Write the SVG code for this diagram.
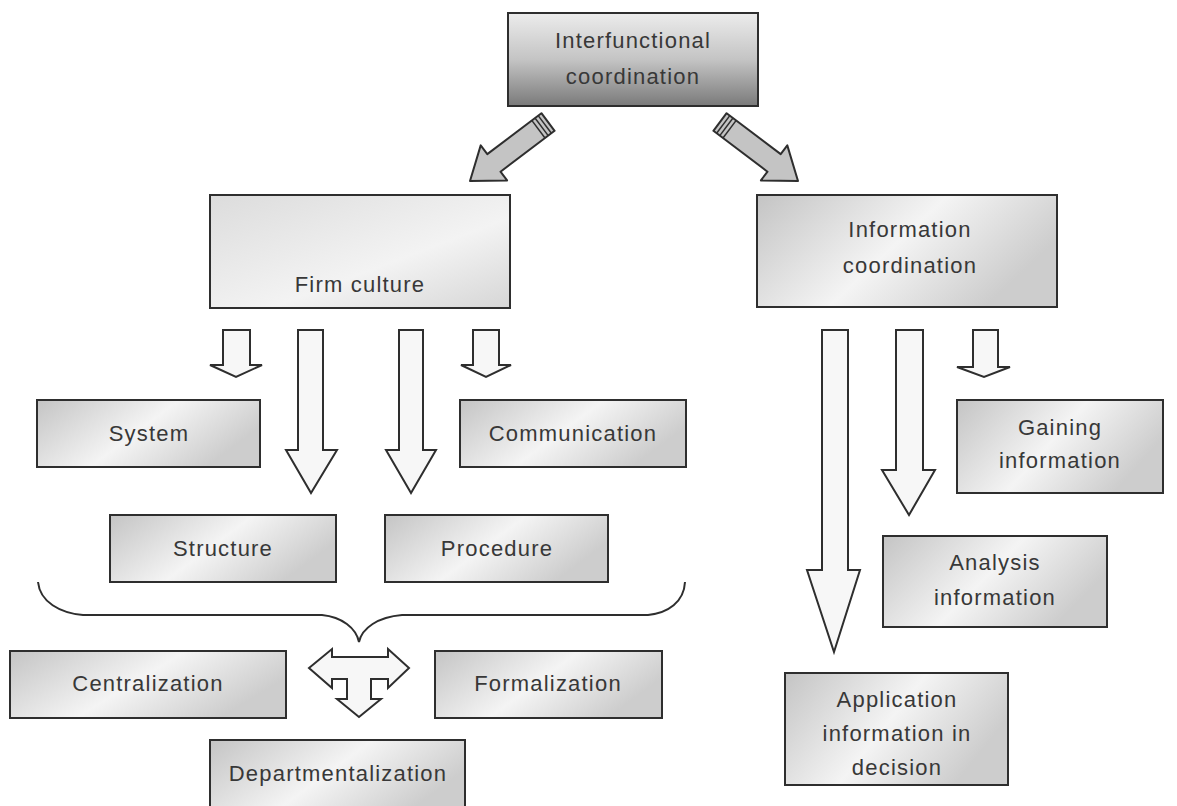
<svg xmlns="http://www.w3.org/2000/svg" width="1177" height="806" viewBox="0 0 1177 806">
<style>
.box{stroke:#2e2e2e;stroke-width:2}
.t{font-family:"Liberation Sans",Arial,sans-serif;font-size:22px;letter-spacing:1.2px;fill:#383838;text-anchor:middle}
.blk{fill:#f7f7f7;stroke:#2e2e2e;stroke-width:2;stroke-linejoin:miter}
.diag{fill:#c4c4c4;stroke:#2e2e2e;stroke-width:2;stroke-linejoin:round}
.stripe{stroke:#2e2e2e;stroke-width:1.5}
.brace{fill:none;stroke:#2e2e2e;stroke-width:2}
</style>
<defs>
<linearGradient id="gTop" x1="0" y1="0" x2="0" y2="1">
<stop offset="0" stop-color="#ececec"/><stop offset="0.5" stop-color="#c4c4c4"/><stop offset="1" stop-color="#7a7a7a"/>
</linearGradient>
<linearGradient id="gLight" x1="0" y1="0" x2="1" y2="1">
<stop offset="0" stop-color="#dcdcdc"/><stop offset="0.6" stop-color="#f3f3f3"/><stop offset="1" stop-color="#d6d6d6"/>
</linearGradient>
<linearGradient id="gBox" x1="0" y1="0" x2="1" y2="0.4">
<stop offset="0" stop-color="#c4c4c4"/><stop offset="0.55" stop-color="#f4f4f4"/><stop offset="1" stop-color="#cdcdcd"/>
</linearGradient>
</defs>
<rect width="1177" height="806" fill="#ffffff"/>

<g id="connectors">
<polygon class="diag" points="470,181 507.1,180.4 500.5,171.7 554.6,130.8 541.4,113.2 487.3,154.1 480.7,145.4"/>
<line class="stripe" x1="551.4" y1="133.2" x2="538.2" y2="115.6"/>
<line class="stripe" x1="548.2" y1="135.6" x2="535" y2="118"/>
<line class="stripe" x1="545" y1="138" x2="531.8" y2="120.4"/>
<polygon class="diag" points="798,181 760.9,180.4 767.5,171.7 713.4,130.8 726.6,113.2 780.7,154.1 787.3,145.4"/>
<line class="stripe" x1="716.6" y1="133.2" x2="729.8" y2="115.6"/>
<line class="stripe" x1="719.8" y1="135.6" x2="733" y2="118"/>
<line class="stripe" x1="723" y1="138" x2="736.2" y2="120.4"/>

<polygon class="blk" points="223,330 250,330 250,365 262,365 236,377 210,365 223,365"/>
<polygon class="blk" points="298,330 323,330 323,450 337,450 311,493 286,450 298,450"/>
<polygon class="blk" points="399,330 423,330 423,450 436,450 411,493 386,450 399,450"/>
<polygon class="blk" points="473,330 499,330 499,365 511,365 486,377 461,365 473,365"/>

<polygon class="blk" points="822,330 848,330 848,570 860,570 834,652 807,570 822,570"/>
<polygon class="blk" points="896,330 923,330 923,470 935,470 909,515 882,470 896,470"/>
<polygon class="blk" points="973,330 998,330 998,367 1010,367 984,377 957,367 973,367"/>

<path class="brace" d="M38,582 C40,602 60,613 83,615 L322,615 C342,617 356,628 359,642 C362,628 378,617 402,615 L648,615 C668,613 684,602 685,582"/>
<polygon class="blk" points="309,668 332,649 332,657 388,657 388,649 409,668 388,688 388,679 371,679 371,699 381,699 359,717 337,699 347,699 347,679 332,679 332,688"/>
</g>

<g id="n-interfunctional">
<rect class="box" x="508" y="13" width="250" height="93" fill="url(#gTop)"/>
<text class="t" x="633" y="48" fill="#555">Interfunctional</text>
<text class="t" x="633" y="84">coordination</text>
</g>
<g id="n-firm-culture">
<rect class="box" x="210" y="195" width="300" height="113" fill="url(#gLight)"/>
<text class="t" x="360" y="292">Firm culture</text>
</g>
<g id="n-information-coordination">
<rect class="box" x="757" y="195" width="300" height="112" fill="url(#gBox)"/>
<text class="t" x="910" y="237">Information</text>
<text class="t" x="910" y="273">coordination</text>
</g>
<g id="n-system">
<rect class="box" x="37" y="400" width="223" height="67" fill="url(#gBox)"/>
<text class="t" x="149" y="441">System</text>
</g>
<g id="n-communication">
<rect class="box" x="460" y="400" width="226" height="67" fill="url(#gBox)"/>
<text class="t" x="573" y="441">Communication</text>
</g>
<g id="n-structure">
<rect class="box" x="110" y="515" width="226" height="67" fill="url(#gBox)"/>
<text class="t" x="223" y="556">Structure</text>
</g>
<g id="n-procedure">
<rect class="box" x="385" y="515" width="223" height="67" fill="url(#gBox)"/>
<text class="t" x="497" y="556">Procedure</text>
</g>
<g id="n-centralization">
<rect class="box" x="10" y="651" width="276" height="67" fill="url(#gBox)"/>
<text class="t" x="148" y="691">Centralization</text>
</g>
<g id="n-formalization">
<rect class="box" x="435" y="651" width="227" height="67" fill="url(#gBox)"/>
<text class="t" x="548" y="691">Formalization</text>
</g>
<g id="n-departmentalization">
<rect class="box" x="210" y="740" width="255" height="75" fill="url(#gBox)"/>
<text class="t" x="338" y="781">Departmentalization</text>
</g>
<g id="n-gaining">
<rect class="box" x="957" y="400" width="206" height="93" fill="url(#gBox)"/>
<text class="t" x="1060" y="435">Gaining</text>
<text class="t" x="1060" y="468">information</text>
</g>
<g id="n-analysis">
<rect class="box" x="883" y="536" width="224" height="91" fill="url(#gBox)"/>
<text class="t" x="995" y="570">Analysis</text>
<text class="t" x="995" y="605">information</text>
</g>
<g id="n-application">
<rect class="box" x="785" y="673" width="223" height="112" fill="url(#gBox)"/>
<text class="t" x="897" y="707">Application</text>
<text class="t" x="897" y="741">information in</text>
<text class="t" x="897" y="775">decision</text>
</g>
</svg>
